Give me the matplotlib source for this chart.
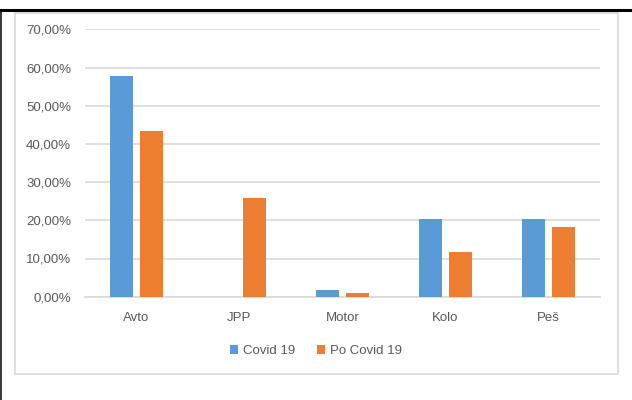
import matplotlib
matplotlib.use("Agg")
import matplotlib.pyplot as plt
from matplotlib.lines import Line2D
from matplotlib.patches import Rectangle
from matplotlib.ticker import FuncFormatter
import numpy as np

categories = ["Avto", "JPP", "Motor", "Kolo", "Peš"]
covid = [57.9, 0.0, 1.8, 20.3, 20.3]
po_covid = [43.4, 25.8, 0.9, 11.8, 18.3]
series_names = ["Covid 19", "Po Covid 19"]

blue = "#5B9BD5"
orange = "#ED7D31"
grid_col = "#D9D9D9"
text_col = "#595959"

plt.rcParams["font.family"] = ["Liberation Sans", "DejaVu Sans"]

W, H = 632, 400
fig = plt.figure(figsize=(W / 100, H / 100), dpi=100)

# outer frame lines and chart border
fig.add_artist(Line2D([0, 1], [1 - 10 / H, 1 - 10 / H], color="black", lw=2.2))
fig.add_artist(Line2D([0.8 / W, 0.8 / W], [0, 1 - 10 / H], color="black", lw=1.1))
fig.add_artist(Rectangle((14.5 / W, 1 - 373.5 / H), (618 - 14.5) / W, (373.5 - 12.5) / H,
                         fill=False, edgecolor=grid_col, lw=1.2))

ax = fig.add_axes([85 / W, 1 - 296.7 / H, (600 - 85) / W, (296.7 - 29.3) / H])

x = np.arange(len(categories))
w = 0.223
ax.bar(x - 0.145, covid, w, color=blue, label=series_names[0], zorder=3)
ax.bar(x + 0.145, po_covid, w, color=orange, label=series_names[1], zorder=3)

ax.set_xlim(-0.5, len(categories) - 0.5)
ax.set_ylim(0, 70)
ax.set_yticks(np.arange(0, 71, 10))
ax.yaxis.set_major_formatter(FuncFormatter(lambda v, p: f"{v:.2f}%".replace(".", ",")))
ax.set_xticks(x)
ax.set_xticklabels(categories)
ax.grid(axis="y", color=grid_col, lw=1.2, zorder=0)
for s in ["top", "right", "left"]:
    ax.spines[s].set_visible(False)
ax.spines["bottom"].set_color(grid_col)
ax.spines["bottom"].set_linewidth(1.2)
ax.tick_params(axis="both", length=0, colors=text_col, labelsize=9.5)
ax.tick_params(axis="y", pad=10)
ax.tick_params(axis="x", pad=11)

fig.legend(loc="center", bbox_to_anchor=(316 / W, 1 - 351 / H), ncol=2, frameon=False,
           fontsize=9.5, labelcolor=text_col, handlelength=0.6, handleheight=0.6,
           handletextpad=0.4, columnspacing=1.6)

fig.savefig("out.png", dpi=100)
